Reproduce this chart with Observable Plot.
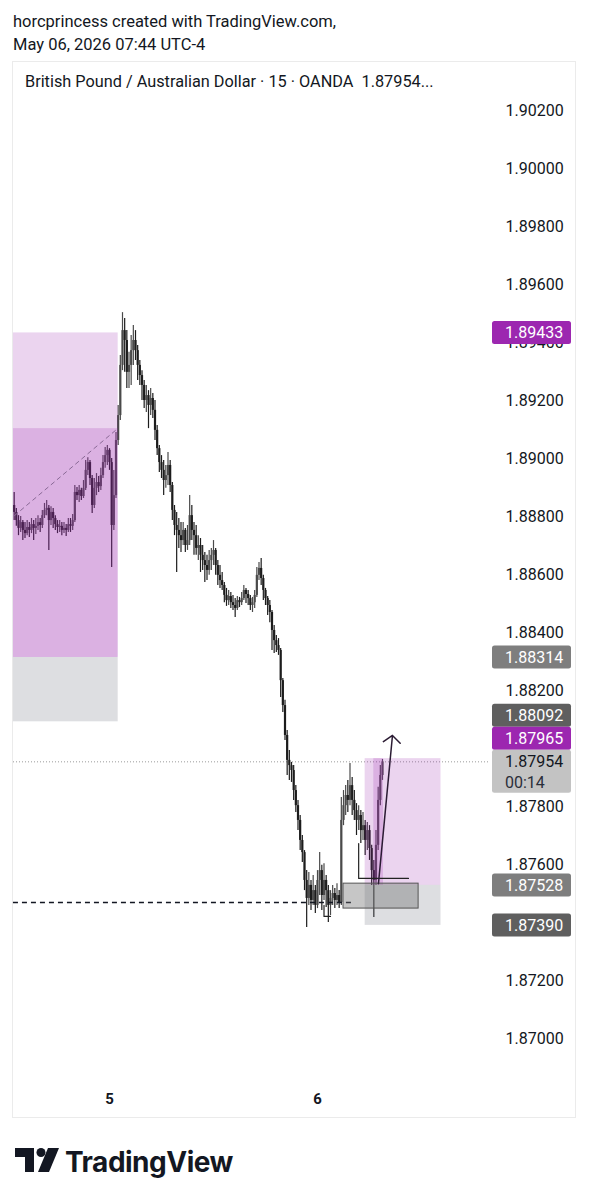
<!DOCTYPE html>
<html><head><meta charset="utf-8">
<script src="https://cdn.jsdelivr.net/npm/d3@7"></script>
<script src="https://cdn.jsdelivr.net/npm/@observablehq/plot@0.6"></script>
<style>
html,body{margin:0;padding:0;background:#fff;}
body{width:589px;height:1200px;position:relative;overflow:hidden;font-family:Roboto,"Noto Sans",sans-serif;}
#bg{position:absolute;left:0;top:0;}
#chart{position:absolute;left:0;top:61px;}
</style>
</head><body>
<svg id="bg" width="589" height="1200">
  <text x="13" y="27" font-family="Roboto" font-size="16.5" fill="#131722">horcprincess created with TradingView.com,</text>
  <text x="13" y="50" font-family="Roboto" font-size="16.5" fill="#131722">May 06, 2026 07:44 UTC-4</text>
  <rect x="12.5" y="61.5" width="563" height="1056" fill="none" stroke="#ebebeb" stroke-width="1"/>
  <text x="25" y="87" font-family="Roboto" font-size="16.3" fill="#131722" style="white-space:pre">British Pound / Australian Dollar · 15 · OANDA  1.87954...</text>
  <g fill="#131722">
    <path d="M15 1148 H34 V1172 H25 V1157 H15 Z"/>
    <circle cx="41" cy="1152.5" r="4.5"/>
    <path d="M48 1148 H59 L49 1172 H38 Z"/>
    <text x="65" y="1172" font-family="Inter" font-weight="700" font-size="28" letter-spacing="-0.5">TradingView</text>
  </g>
</svg>
<div id="chart"></div>
<script>
// ---- data (GBP/AUD, 15-minute bars, OANDA) ----
const barStartUTC = Date.UTC(2026, 4, 4, 13, 0); // first bar, chart time UTC-4
const barMinutes = 15;
const open = [1.88838,1.88814,1.88786,1.88759,1.88779,1.88752,1.88741,1.88762,1.88752,1.88772,
 1.88759,1.88766,1.88779,1.88769,1.88803,1.88821,1.88828,1.88786,1.88814,1.88793,
 1.88772,1.88762,1.88766,1.88752,1.88759,1.88752,1.88772,1.88766,1.88786,1.88883,
 1.88872,1.88890,1.88869,1.88897,1.88959,1.88986,1.88931,1.88838,1.88897,1.88917,
 1.88903,1.88941,1.88986,1.89010,1.89028,1.88986,1.88769,1.88872,1.89062,1.89148,
 1.89321,1.89441,1.89407,1.89297,1.89321,1.89372,1.89407,1.89372,1.89321,1.89286,
 1.89252,1.89200,1.89217,1.89183,1.89207,1.89166,1.89097,1.89034,1.88986,1.88959,
 1.88924,1.88941,1.88976,1.88907,1.88821,1.88769,1.88752,1.88734,1.88717,1.88752,
 1.88700,1.88717,1.88803,1.88752,1.88734,1.88690,1.88700,1.88666,1.88648,1.88631,
 1.88614,1.88648,1.88666,1.88683,1.88631,1.88597,1.88579,1.88562,1.88528,1.88510,
 1.88524,1.88503,1.88493,1.88483,1.88510,1.88503,1.88517,1.88545,1.88531,1.88517,
 1.88493,1.88503,1.88528,1.88597,1.88621,1.88586,1.88545,1.88517,1.88493,1.88469,
 1.88407,1.88372,1.88355,1.88338,1.88234,1.88148,1.88045,1.87959,1.87941,1.87924,
 1.87855,1.87803,1.87752,1.87683,1.87641,1.87545,1.87483,1.87528,1.87476,1.87510,
 1.87459,1.87545,1.87579,1.87493,1.87545,1.87510,1.87459,1.87483,1.87500,1.87476,
 1.87493,1.87469,1.87752,1.87803,1.87838,1.87821,1.87872,1.87821,1.87786,1.87752,
 1.87769,1.87717,1.87734,1.87683,1.87717,1.87655,1.87579,1.87545,1.87666,1.87821,
 1.87907];
const high = [1.88883,1.88828,1.88803,1.88800,1.88786,1.88779,1.88786,1.88779,1.88793,1.88786,
 1.88793,1.88803,1.88793,1.88821,1.88845,1.88855,1.88838,1.88834,1.88828,1.88803,
 1.88786,1.88786,1.88779,1.88779,1.88772,1.88793,1.88793,1.88807,1.88907,1.88900,
 1.88907,1.88897,1.88924,1.88993,1.89003,1.88993,1.88941,1.88931,1.88948,1.88938,
 1.88966,1.89010,1.89038,1.89045,1.89034,1.89000,1.88959,1.89090,1.89183,1.89355,
 1.89503,1.89483,1.89441,1.89366,1.89424,1.89459,1.89441,1.89390,1.89338,1.89303,
 1.89269,1.89252,1.89234,1.89241,1.89224,1.89200,1.89114,1.89045,1.89010,1.88993,
 1.88976,1.89021,1.88993,1.88917,1.88838,1.88814,1.88793,1.88779,1.88779,1.88759,
 1.88769,1.88872,1.88838,1.88779,1.88769,1.88734,1.88724,1.88700,1.88676,1.88666,
 1.88683,1.88690,1.88717,1.88690,1.88648,1.88631,1.88607,1.88572,1.88552,1.88545,
 1.88538,1.88528,1.88517,1.88524,1.88521,1.88538,1.88562,1.88552,1.88545,1.88528,
 1.88521,1.88545,1.88624,1.88641,1.88655,1.88597,1.88552,1.88524,1.88510,1.88476,
 1.88424,1.88390,1.88379,1.88345,1.88241,1.88166,1.88062,1.87993,1.87952,1.87941,
 1.87872,1.87821,1.87769,1.87700,1.87648,1.87579,1.87572,1.87545,1.87562,1.87528,
 1.87579,1.87641,1.87597,1.87603,1.87562,1.87528,1.87510,1.87528,1.87517,1.87534,
 1.87510,1.87831,1.87855,1.87872,1.87890,1.87948,1.87900,1.87855,1.87810,1.87803,
 1.87786,1.87779,1.87752,1.87745,1.87734,1.87666,1.87614,1.87717,1.87866,1.87941,
 1.87962];
const low = [1.88786,1.88766,1.88734,1.88745,1.88717,1.88724,1.88734,1.88728,1.88741,1.88717,
 1.88738,1.88752,1.88745,1.88759,1.88793,1.88803,1.88683,1.88769,1.88759,1.88752,
 1.88741,1.88745,1.88734,1.88741,1.88731,1.88745,1.88745,1.88752,1.88779,1.88855,
 1.88848,1.88855,1.88862,1.88890,1.88941,1.88907,1.88810,1.88828,1.88872,1.88883,
 1.88890,1.88931,1.88966,1.88976,1.88959,1.88624,1.88752,1.88862,1.89045,1.89131,
 1.89303,1.89297,1.89241,1.89241,1.89252,1.89321,1.89338,1.89269,1.89252,1.89200,
 1.89172,1.89159,1.89103,1.89148,1.89138,1.89062,1.89010,1.88952,1.88931,1.88872,
 1.88897,1.88907,1.88883,1.88786,1.88734,1.88607,1.88690,1.88676,1.88700,1.88676,
 1.88683,1.88700,1.88717,1.88666,1.88666,1.88648,1.88607,1.88614,1.88572,1.88579,
 1.88597,1.88614,1.88631,1.88597,1.88562,1.88552,1.88545,1.88503,1.88490,1.88493,
 1.88483,1.88476,1.88452,1.88476,1.88486,1.88493,1.88510,1.88500,1.88493,1.88476,
 1.88469,1.88483,1.88521,1.88579,1.88562,1.88510,1.88493,1.88459,1.88434,1.88338,
 1.88328,1.88331,1.88321,1.88176,1.88124,1.88028,1.87907,1.87890,1.87883,1.87821,
 1.87779,1.87717,1.87648,1.87607,1.87510,1.87383,1.87459,1.87441,1.87459,1.87431,
 1.87448,1.87493,1.87441,1.87476,1.87452,1.87400,1.87424,1.87459,1.87448,1.87459,
 1.87448,1.87459,1.87734,1.87769,1.87779,1.87803,1.87769,1.87752,1.87700,1.87717,
 1.87672,1.87683,1.87631,1.87648,1.87614,1.87528,1.87417,1.87528,1.87648,1.87803,
 1.87890];
const close = [1.88814,1.88786,1.88759,1.88779,1.88752,1.88741,1.88762,1.88752,1.88772,1.88759,
 1.88766,1.88779,1.88769,1.88803,1.88821,1.88828,1.88786,1.88814,1.88793,1.88772,
 1.88762,1.88766,1.88752,1.88759,1.88752,1.88772,1.88766,1.88786,1.88883,1.88872,
 1.88890,1.88869,1.88897,1.88959,1.88986,1.88931,1.88838,1.88897,1.88917,1.88903,
 1.88941,1.88986,1.89010,1.89028,1.88986,1.88769,1.88872,1.89062,1.89148,1.89321,
 1.89441,1.89407,1.89297,1.89321,1.89372,1.89407,1.89372,1.89321,1.89286,1.89252,
 1.89200,1.89217,1.89183,1.89207,1.89166,1.89097,1.89034,1.88986,1.88959,1.88924,
 1.88941,1.88976,1.88907,1.88821,1.88769,1.88752,1.88734,1.88717,1.88752,1.88700,
 1.88717,1.88803,1.88752,1.88734,1.88690,1.88700,1.88666,1.88648,1.88631,1.88614,
 1.88648,1.88666,1.88683,1.88631,1.88597,1.88579,1.88562,1.88528,1.88510,1.88524,
 1.88503,1.88493,1.88483,1.88510,1.88503,1.88517,1.88545,1.88531,1.88517,1.88493,
 1.88503,1.88528,1.88597,1.88621,1.88586,1.88545,1.88517,1.88493,1.88469,1.88407,
 1.88372,1.88355,1.88338,1.88234,1.88148,1.88045,1.87959,1.87941,1.87924,1.87855,
 1.87803,1.87752,1.87683,1.87641,1.87545,1.87483,1.87528,1.87476,1.87510,1.87459,
 1.87545,1.87579,1.87493,1.87545,1.87510,1.87459,1.87483,1.87500,1.87476,1.87493,
 1.87469,1.87752,1.87803,1.87838,1.87821,1.87872,1.87821,1.87786,1.87752,1.87769,
 1.87717,1.87734,1.87683,1.87717,1.87655,1.87579,1.87545,1.87666,1.87821,1.87907,
 1.87954];

// price-axis tick labels visible in the chart (1.88000 and 1.87400 sit under price labels)
const yTicks = [1.902,1.900,1.898,1.896,1.894,1.892,1.890,1.888,1.886,1.884,1.882,1.878,1.876,1.872,1.870];
// time-axis ticks (day boundaries)
const dayTicks = [Date.UTC(2026,4,5), Date.UTC(2026,4,6)];

// long-position drawings
const posStart  = [Date.UTC(2026,4,4,12,55), Date.UTC(2026,4,6,5,30)];
const posEnd    = [Date.UTC(2026,4,5,1,0),   Date.UTC(2026,4,6,14,15)];
const posEntry  = [1.88314, 1.87528];
const posTarget = [1.89433, 1.87965];
const posStop   = [1.88092, 1.87390];
const fillStart = [Date.UTC(2026,4,4,12,55), Date.UTC(2026,4,6,6,30)];
const fillEnd   = [Date.UTC(2026,4,5,1,0),   Date.UTC(2026,4,6,7,37)];
const fillPrice = [1.89103, 1.87965];
const tradeLineT = [Date.UTC(2026,4,4,13,2), Date.UTC(2026,4,5,0,56)];
const tradeLineP = [1.88803, 1.89103];

// other drawings
const levelPrice = 1.87469, levelStart = Date.UTC(2026,4,4,12,55), levelEnd = Date.UTC(2026,4,6,4,0);
const zoneT = [Date.UTC(2026,4,6,3,0), Date.UTC(2026,4,6,11,40)];
const zoneP = [1.87448, 1.87534];
const lPathT = [Date.UTC(2026,4,6,4,45), Date.UTC(2026,4,6,4,45), Date.UTC(2026,4,6,10,30)];
const lPathP = [1.87672, 1.87552, 1.87552];
const bracketT = [Date.UTC(2026,4,6,0,45), Date.UTC(2026,4,6,0,45), Date.UTC(2026,4,6,1,30)];
const bracketP = [1.87459, 1.87421, 1.87421];
const arrowT = [Date.UTC(2026,4,6,7,2), Date.UTC(2026,4,6,8,39)];
const arrowP = [1.87534, 1.88045];
const lastPrice = 1.87954;

// price labels on the axis
const labelPrices = [1.89433, 1.88314, 1.88092, 1.87965, 1.87954, 1.87528, 1.87390];
const labelText   = ["1.89433","1.88314","1.88092","1.87965","1.87954","1.87528","1.87390"];
const labelSub    = ["","","","","00:14","",""];
const labelBg     = ["#9c27b0","#7e7e7e","#5f5f5f","#9c27b0","#c3c3c3","#7e7e7e","#5f5f5f"];
const labelFg     = ["#ffffff","#ffffff","#ffffff","#ffffff","#131722","#ffffff","#ffffff"];

// ---- build ----
const bars = close.map((c, i) => ({t: new Date(barStartUTC + i * barMinutes * 60000), o: open[i], h: high[i], l: low[i], c}));
const pos = posEntry.map((e, i) => ({s: new Date(posStart[i]), e: new Date(posEnd[i]), entry: e, target: posTarget[i], stop: posStop[i],
  fs: new Date(fillStart[i]), fe: new Date(fillEnd[i]), fp: fillPrice[i]}));
const toPts = (T, P) => T.map((t, i) => ({t: new Date(t), p: P[i]}));
const upC = "#4a4a4a", dnC = "#1c1c1c";
const purple = "#9c27b0";

const chart = Plot.plot({
  width: 589, height: 1057,
  marginLeft: 13, marginRight: 99, marginTop: 0, marginBottom: 60,
  style: {background: "transparent", fontFamily: "Roboto, sans-serif", fontSize: "16px", color: "#131722"},
  x: {type: "utc", domain: [new Date(dayTicks[0]), new Date(dayTicks[1])], range: [109, 317]},
  y: {domain: [1.870, 1.902], range: [977, 49]},
  marks: [
    Plot.axisY(yTicks, {anchor: "right", tickSize: 0, tickPadding: 15, tickFormat: d3.format(".5f"), fontSize: 16, label: null}),
    Plot.axisX(dayTicks.map(d => new Date(d)), {tickSize: 0, tickPadding: 35, tickFormat: d => String(d.getUTCDate()), fontSize: 15, fontWeight: 700, label: null}),
    Plot.ruleY([lastPrice], {stroke: "#9a9a9a", strokeWidth: 1, strokeDasharray: "1,2"}),
    // candles
    Plot.ruleX(bars, {x: "t", y1: "l", y2: "h", stroke: d => d.c >= d.o ? upC : dnC, strokeWidth: 1.2}),
    Plot.ruleX(bars, {x: "t", y1: "o", y2: "c", stroke: d => d.c >= d.o ? upC : dnC, strokeWidth: 2.2}),
    // position overlays
    Plot.rect(pos, {x1: "s", x2: "e", y1: "entry", y2: "target", fill: purple, fillOpacity: 0.2}),
    Plot.rect(pos, {x1: "s", x2: "e", y1: "entry", y2: "stop", fill: "#787b86", fillOpacity: 0.25}),
    Plot.rect(pos, {x1: "fs", x2: "fe", y1: "entry", y2: "fp", fill: purple, fillOpacity: 0.2}),
    Plot.line(toPts(tradeLineT, tradeLineP), {x: "t", y: "p", stroke: "#8a6a96", strokeWidth: 1, strokeDasharray: "4,4"}),
    // horizontal dashed level
    Plot.ruleY([levelPrice], {x1: new Date(levelStart), x2: new Date(levelEnd), stroke: "#131722", strokeWidth: 1.3, strokeDasharray: "5,4"}),
    // grey zone box
    Plot.rect([0], {x1: new Date(zoneT[0]), x2: new Date(zoneT[1]), y1: zoneP[0], y2: zoneP[1], fill: "#707070", fillOpacity: 0.4, stroke: "#555", strokeWidth: 1}),
    Plot.line(toPts(lPathT, lPathP), {x: "t", y: "p", stroke: "#222", strokeWidth: 1.2}),
    Plot.line(toPts(bracketT, bracketP), {x: "t", y: "p", stroke: "#222", strokeWidth: 1.2}),
    Plot.arrow([0], {x1: new Date(arrowT[0]), y1: arrowP[0], x2: new Date(arrowT[1]), y2: arrowP[1], stroke: "#2b1b33", strokeWidth: 1.5, headLength: 11, headAngle: 100})
  ]
});
document.getElementById("chart").appendChild(chart);

// axis price labels placed with the y scale, stacked to avoid overlap
const ys = chart.scale("y");
const labels = labelPrices.map((p, i) => ({p, text: labelText[i], sub: labelSub[i], bg: labelBg[i], fg: labelFg[i], y: ys.apply(p)}))
  .sort((a, b) => a.y - b.y);
const H = 23;
const k = labels.findIndex(d => d.sub);
labels[k].cy = labels[k].y; labels[k].top = labels[k].y - H / 2; labels[k].bot = labels[k].y + H / 2 + 20;
for (let i = k - 1; i >= 0; i--) { const c = Math.min(labels[i].y, labels[i + 1].top - H / 2); labels[i].cy = c; labels[i].top = c - H / 2; labels[i].bot = c + H / 2; }
for (let i = k + 1; i < labels.length; i++) { const c = Math.max(labels[i].y, labels[i - 1].bot + H / 2); labels[i].cy = c; labels[i].top = c - H / 2; labels[i].bot = c + H / 2; }
const g = d3.select(chart).append("g").attr("font-family", "Roboto, sans-serif").attr("font-size", 16).attr("text-anchor", "start");
const x0 = 589 - 99 + 2;
g.selectAll("rect").data(labels).join("rect")
  .attr("x", x0).attr("y", d => d.top).attr("width", 79).attr("height", d => d.bot - d.top)
  .attr("rx", 2.5).attr("fill", d => d.bg);
g.selectAll("text.main").data(labels).join("text").attr("class", "main")
  .attr("x", 505).attr("y", d => d.cy).attr("dy", "0.36em").attr("text-anchor", "start").attr("fill", d => d.fg).text(d => d.text);
g.selectAll("text.sub").data(labels.filter(d => d.sub)).join("text").attr("class", "sub")
  .attr("x", 505).attr("y", d => d.cy + 21).attr("dy", "0.36em").attr("text-anchor", "start").attr("fill", "#2a2e39").text(d => d.sub);
</script>
</body></html>
